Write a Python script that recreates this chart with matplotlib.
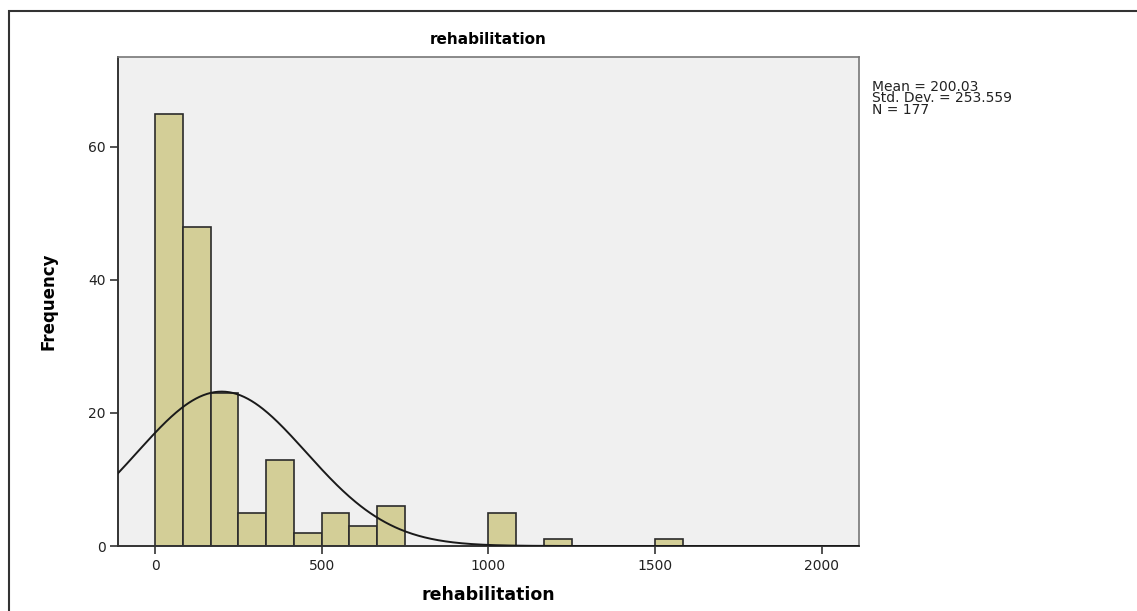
"""Histogram of rehabilitation with fitted normal curve (SPSS style)."""

import matplotlib
import numpy as np

matplotlib.use("Agg")
import matplotlib.pyplot as plt
from matplotlib.patches import Rectangle

# bin layout (left edges) and counts
BIN_WIDTH = 2000 / 24
bin_index = [0, 1, 2, 3, 4, 5, 6, 7, 8, 12, 14, 18]
counts = [65, 48, 23, 5, 13, 2, 5, 3, 6, 5, 1, 1]

MEAN = 200.03
STD = 253.559
N = 177

x_ticks = [0, 500, 1000, 1500, 2000]
y_ticks = [0, 20, 40, 60]

BAR_COLOR = "#d3ce97"
EDGE = "#2b2b2b"
BG = "#f0f0f0"

fig = plt.figure(figsize=(11.37, 6.11), dpi=100)
W, H = 1137, 611

# outer frame (only left/top visible in the reference)
fig.add_artist(Rectangle((9 / W, -0.1), 1.2, 1 - 11 / H + 0.1, transform=fig.transFigure,
                         fill=False, edgecolor="#333333", lw=1.5))

ax = fig.add_axes([118 / W, 1 - 546 / H, (859 - 118) / W, (546 - 57) / H])
ax.set_facecolor(BG)

lefts = np.array(bin_index) * BIN_WIDTH
ax.bar(lefts, counts, width=BIN_WIDTH, align="edge", color=BAR_COLOR,
       edgecolor=EDGE, linewidth=1.2, zorder=2)

xlim = (-111, 2112)
xs = np.linspace(xlim[0], xlim[1], 600)
ys = N * BIN_WIDTH / (STD * np.sqrt(2 * np.pi)) * np.exp(-0.5 * ((xs - MEAN) / STD) ** 2)
ax.plot(xs, ys, color="#1a1a1a", lw=1.4, zorder=3)

ax.set_xlim(*xlim)
ax.set_ylim(0, 73.5)
ax.set_xticks(x_ticks)
ax.set_yticks(y_ticks)
ax.tick_params(direction="out", length=6, width=1.2, color="#333333",
               labelsize=10, labelcolor="#222222", pad=3)

for side in ("left", "bottom"):
    ax.spines[side].set_color("#333333")
    ax.spines[side].set_linewidth(1.4)
for side in ("top", "right"):
    ax.spines[side].set_color("#777777")
    ax.spines[side].set_linewidth(1.2)

ax.set_title("rehabilitation", fontsize=11, fontweight="bold", pad=9)
ax.set_xlabel("rehabilitation", fontsize=12.5, fontweight="bold", labelpad=10)
ax.set_ylabel("Frequency", fontsize=12, fontweight="bold", labelpad=22,
              family=["Liberation Sans Narrow", "DejaVu Sans"])

fig.text(872 / W, 1 - 80 / H, f"Mean = {MEAN:.2f}\nStd. Dev. = {STD:.3f}\nN = {N}",
         fontsize=10, va="top", ha="left", linespacing=0.75, color="#222222")

fig.savefig("out.png", dpi=100)
